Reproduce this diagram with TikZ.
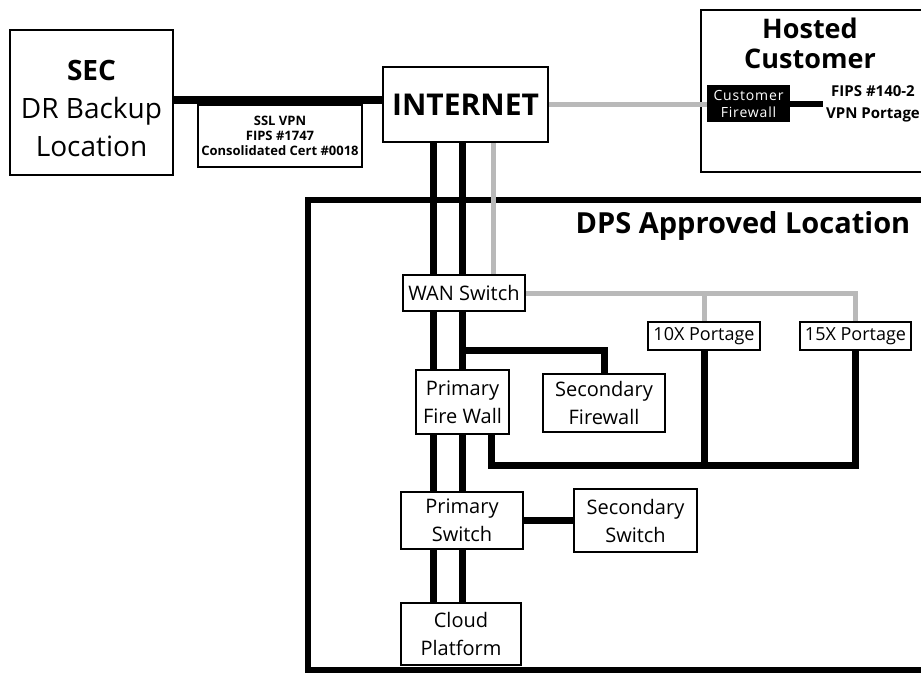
\documentclass[tikz,border=0pt]{standalone}
\usepackage{fontspec}
\setmainfont{Open Sans}

\tikzset{
  box/.style={draw, line width=1.5pt, fill=white, align=center, inner sep=0pt, font=\fontsize{20}{28}\selectfont},
  frame/.style={draw, inner sep=0pt},
  link/.style={line width=7pt},
  glink/.style={line width=5pt, gray!55},
}

\begin{document}
\begin{tikzpicture}[x=1pt,y=-1pt]
  \useasboundingbox (0,0) rectangle (921,673);
  \node[frame, line width=6pt, minimum width=632pt, minimum height=470pt] (dps) at (624,435) {};
  \node[frame, line width=2pt, minimum width=239pt, minimum height=162pt] (hosted) at (820.5,91) {};
  \node[frame, line width=2pt, minimum width=163pt, minimum height=145pt] (sec) at (91.5,102.5) {};
  \node[align=center, font=\fontsize{28}{38}\selectfont] (seclbl) at (91.5,108) {{\bfseries SEC}\\DR Backup\\Location};
  \node[box, font=\bfseries\fontsize{13}{15}\selectfont, minimum width=164pt, minimum height=62pt] (ssl) at (280,136) {SSL VPN\\FIPS \#1747\\Consolidated Cert \#0018};
  \node[box, font=\bfseries\fontsize{30}{36}\selectfont, minimum width=165pt, minimum height=75pt] (internet) at (465.5,104.5) {INTERNET};
  \node[font=\bfseries\fontsize{27}{30}\selectfont, align=center] (hostlbl) at (810,43) {Hosted\\Customer};
  \node[fill=black, text=white, minimum width=83pt, minimum height=37pt, inner sep=0pt, align=center, font=\fontsize{14}{17}\selectfont\addfontfeatures{LetterSpace=6}] (cfw) at (748.5,103.5) {Customer\\Firewall};
  \node[font=\bfseries\fontsize{15}{22}\selectfont, align=center, inner sep=3pt] (fips) at (873,104) {FIPS \#140-2\\VPN Portage};
  \node[font=\bfseries\fontsize{29}{32}\selectfont] (dpslbl) at (743,226) {DPS Approved Location};
  \node[box, minimum width=122pt, minimum height=36pt] (wan) at (464,293) {WAN Switch};
  \node[box, font=\fontsize{18}{24}\selectfont, minimum width=112pt, minimum height=28pt] (p10) at (704,336) {10X Portage};
  \node[box, font=\fontsize{18}{24}\selectfont, minimum width=111pt, minimum height=28pt] (p15) at (855.5,336) {15X Portage};
  \node[box, minimum width=93pt, minimum height=64pt] (pfw) at (462.5,402) {Primary\\Fire Wall};
  \node[box, minimum width=122pt, minimum height=58pt] (sfw) at (604,403) {Secondary\\Firewall};
  \node[box, minimum width=122pt, minimum height=57pt] (psw) at (462,520.5) {Primary\\Switch};
  \node[box, minimum width=123pt, minimum height=63pt] (ssw) at (635.5,520.5) {Secondary\\Switch};
  \node[box, minimum width=120pt, minimum height=62pt] (cloud) at (461,634) {Cloud\\Platform};
  \coordinate (tA) at (433,0);
  \coordinate (tB) at (462,0);
  \coordinate (tC) at (493,0);
  \coordinate (fork) at (462,350);
  \coordinate (loop) at (491,465);

  \draw[line width=8pt] (sec.east |- 0,100) -- ([yshift=4.5pt]internet.west);
  \draw[glink] (internet.east) -- (internet.east -| cfw.west);
  \draw[line width=6pt] (cfw.east) -- (cfw.east -| fips.west);
  \draw[link] (internet.south -| tA) -- (wan.north -| tA);
  \draw[link] (internet.south -| tB) -- (wan.north -| tB);
  \draw[glink] (internet.south -| tC) -- (wan.north -| tC);
  \draw[link] (wan.south -| tA) -- (pfw.north -| tA);
  \draw[link] (wan.south -| tB) -- (pfw.north -| tB);
  \draw[link] (fork) -- (sfw.north |- fork) -- (sfw.north);
  \draw[glink] (wan.east) -- (p15.north |- wan.east) -- (p15.north);
  \draw[glink] (p10.north |- wan.east) -- (p10.north);
  \draw[link] (pfw.south -| loop) -- (loop) -- (p15.south |- loop) -- (p15.south);
  \draw[link] (p10.south) -- (p10.south |- loop);
  \draw[link] (pfw.south -| tA) -- (psw.north -| tA);
  \draw[link] (pfw.south -| tB) -- (psw.north -| tB);
  \draw[link] (psw.east) -- (ssw.west);
  \draw[link] (psw.south -| tA) -- (cloud.north -| tA);
  \draw[link] (psw.south -| tB) -- (cloud.north -| tB);
\end{tikzpicture}
\end{document}
